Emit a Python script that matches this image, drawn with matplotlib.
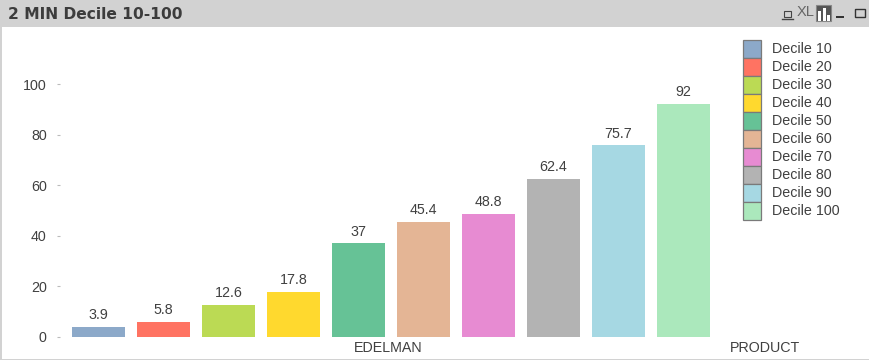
import matplotlib
matplotlib.use('Agg')
import matplotlib.pyplot as plt
from matplotlib.patches import Rectangle

W, H = 869, 360

# values
deciles = ['Decile 10', 'Decile 20', 'Decile 30', 'Decile 40', 'Decile 50',
           'Decile 60', 'Decile 70', 'Decile 80', 'Decile 90', 'Decile 100']
values = [3.9, 5.8, 12.6, 17.8, 37, 45.4, 48.8, 62.4, 75.7, 92]
value_labels = ['3.9', '5.8', '12.6', '17.8', '37', '45.4', '48.8', '62.4', '75.7', '92']
colors = ['#8CA9C9', '#FF7362', '#BBDA54', '#FFD92E', '#66C296',
          '#E4B595', '#E78BD2', '#B3B3B3', '#A6D8E3', '#ABE8BC']
y_ticks = [0, 20, 40, 60, 80, 100]

plt.rcParams['font.family'] = ['Liberation Sans', 'DejaVu Sans']
text_col = '#404040'

fig = plt.figure(figsize=(W / 100, H / 100), dpi=100, facecolor='white')

# overlay in pixel coordinates for the window frame, icons and legend
ov = fig.add_axes([0, 0, 1, 1], zorder=0)
ov.set_xlim(0, W)
ov.set_ylim(H, 0)
ov.axis('off')
frame = '#D2D2D2'
ov.add_patch(Rectangle((0, 0), W, 27, color=frame, lw=0))
ov.add_patch(Rectangle((0, 0), 2, H, color=frame, lw=0))
ov.add_patch(Rectangle((0, 358.5), W, 1.5, color=frame, lw=0))
ov.text(8, 14.5, '2 MIN Decile 10-100', family='DejaVu Sans', weight='bold',
        fontsize=11.15, color='#3C3C3C', va='center', ha='left')

# toolbar icons
icon = '#444444'
ov.add_patch(Rectangle((784, 11), 7, 6, fc='none', ec=icon, lw=0.8))
ov.plot([782, 793], [18.5, 18.5], color=icon, lw=1)
ov.text(805.5, 12.5, 'XL', fontsize=10.5, color='#666666', ha='center', va='center',
        fontstretch='condensed')
ov.add_patch(Rectangle((816, 5), 15, 16, fc='#555555', ec='#888888', lw=0.8))
for bx, by in zip([818, 823, 827], [11, 8, 15]):
    ov.add_patch(Rectangle((bx, by), 3, 21 - by, fc='white', lw=0))
ov.add_patch(Rectangle((836, 16), 8, 2, fc='#333333', lw=0))
ov.add_patch(Rectangle((854.5, 8.5), 10.5, 8.5, fc='none', ec='#333333', lw=1))
ov.add_patch(Rectangle((854.5, 8.5), 10.5, 1.5, fc='#333333', lw=0))

# legend
for i, (name, col) in enumerate(zip(deciles, colors)):
    y = 40 + i * 18
    ov.add_patch(Rectangle((743, y), 18, 18, fc=col, ec='#7A7A7A', lw=0.9))
    ov.text(771.5, y + 9, name, fontsize=10.3, color=text_col, va='center', ha='left')

ov.text(388.5, 347.5, 'EDELMAN', fontsize=10.3, color=text_col, ha='center', va='center')
ov.text(765, 347.5, 'PRODUCT', fontsize=10.3, color=text_col, ha='center', va='center')

# chart area: 0 sits at y=337, scale 2.53 px per unit, bars step 65 px from x=98.5
left, right, top, bottom = 60, 720, 60, 337
ax = fig.add_axes([left / W, 1 - bottom / H, (right - left) / W, (bottom - top) / H], zorder=1)
ax.patch.set_alpha(0)
ax.set_xlim((left - 98.5) / 65, (right - 98.5) / 65)
ax.set_ylim(0, (bottom - top) / 2.53)

x = list(range(len(values)))
ax.bar(x, values, width=53 / 65, color=colors, linewidth=0)
for xi, v, lab in zip(x, values, value_labels):
    ax.annotate(lab, (xi, v), xytext=(0, 3.5), textcoords='offset points', ha='center',
                va='bottom', fontsize=10.3, color=text_col)

for s in ax.spines.values():
    s.set_visible(False)
ax.set_xticks([])
ax.set_yticks(y_ticks)
ax.tick_params(axis='y', length=2, width=0.8, color='#BBBBBB', labelsize=10.3,
               labelcolor=text_col, pad=7.5)

fig.savefig('out.png', dpi=100)
